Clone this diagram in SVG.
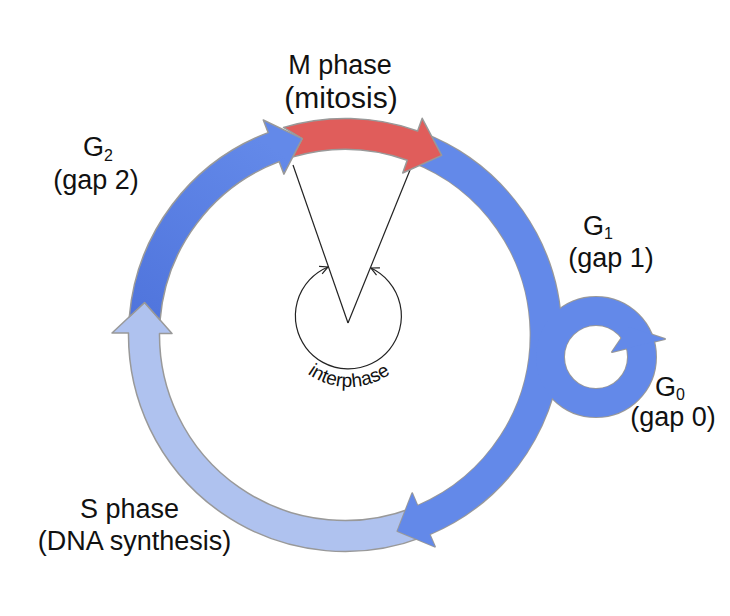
<svg xmlns="http://www.w3.org/2000/svg" width="730" height="616" viewBox="0 0 730 616">
<style>
.lbl{font-family:"Liberation Sans",Arial,sans-serif;font-size:27px;fill:#111}
.sub{font-size:16px}
.edge{stroke:#999;stroke-width:1.5;stroke-linejoin:round}
.blue{fill:#6389E9}
.thin{fill:none;stroke:#222;stroke-width:1.2}
</style>
<defs>
<linearGradient id="g2grad" x1="0" y1="1" x2="0.6" y2="0">
<stop offset="0" stop-color="#4F74DC"/>
<stop offset="1" stop-color="#6389E9"/>
</linearGradient>
<marker id="oa" viewBox="0 0 10 10" refX="9" refY="5" markerWidth="10" markerHeight="10" markerUnits="userSpaceOnUse" orient="auto-start-reverse">
<path d="M1,1 L9,5 L1,9" fill="none" stroke="#222" stroke-width="1.2"/>
</marker>
</defs>
<rect width="730" height="616" fill="#fff"/>
<g id="connectors">
<line class="thin" x1="293" y1="165" x2="348" y2="323"/>
<line class="thin" x1="410" y1="170" x2="348" y2="323"/>
<path class="thin" d="M328,267 A53,53 0 1 0 371,268" marker-start="url(#oa)" marker-end="url(#oa)"/>
</g>
<g id="s-phase">
<path class="edge" fill="#AFC2EF" d="M422.6,537.1 A216.5,216.5 0 0 1 128.5,333.1 L112,333 L144.6,302.5 L172,333.5 L159.5,333.4 A185.5,185.5 0 0 0 411.5,508.2 Z"/>
</g>
<g id="g1-g0">
<g stroke="#999" stroke-width="2" stroke-linejoin="round" class="blue">
<path d="M422.6,132.9 A216.5,216.5 0 0 1 429.6,534.3 L434.9,546.7 L397.5,531.1 L412.2,493.3 L417.5,505.8 A185.5,185.5 0 0 0 411.5,161.8 Z"/>
<path fill-rule="evenodd" d="M536,357 A60,60 0 1 0 656,357 A60,60 0 1 0 536,357 Z M564,357 A32,32 0 1 0 628,357 A32,32 0 1 0 564,357 Z"/>
<polygon points="612,352 629,327 665,339"/>
</g>
<g class="blue">
<path d="M422.6,132.9 A216.5,216.5 0 0 1 429.6,534.3 L434.9,546.7 L397.5,531.1 L412.2,493.3 L417.5,505.8 A185.5,185.5 0 0 0 411.5,161.8 Z"/>
<path fill-rule="evenodd" d="M536,357 A60,60 0 1 0 656,357 A60,60 0 1 0 536,357 Z M564,357 A32,32 0 1 0 628,357 A32,32 0 1 0 564,357 Z"/>
<polygon points="612,352 629,327 665,339"/>
</g>
</g>
<g id="m-phase">
<path class="edge" fill="#E05D5B" d="M283.5,127.4 A216.5,216.5 0 0 1 417.6,131 L422.2,118.3 L441.7,155.4 L402.7,173 L407.2,160.2 A185.5,185.5 0 0 0 292.3,157.1 L302.2,138.6 Z"/>
</g>
<g id="g2">
<path class="edge" fill="url(#g2grad)" d="M129.3,316.8 A216.5,216.5 0 0 1 268.1,132.6 L263.3,120 L302.2,138.6 L283.9,174.2 L279.1,161.6 A185.5,185.5 0 0 0 160.1,320 L144.6,302.5 Z"/>
</g>
<g id="labels">
<text class="lbl" x="340" y="74" text-anchor="middle">M phase</text>
<text class="lbl" x="341" y="108" text-anchor="middle" style="font-size:30px">(mitosis)</text>
<text class="lbl" x="83" y="156">G<tspan class="sub" dy="5">2</tspan></text>
<text class="lbl" x="96" y="189" text-anchor="middle">(gap 2)</text>
<text class="lbl" x="583" y="235">G<tspan class="sub" dy="4">1</tspan></text>
<text class="lbl" x="611" y="267" text-anchor="middle">(gap 1)</text>
<text class="lbl" x="655" y="396">G<tspan class="sub" dy="4">0</tspan></text>
<text class="lbl" x="673" y="426" text-anchor="middle">(gap 0)</text>
<text class="lbl" x="80" y="518">S phase</text>
<text class="lbl" x="134.5" y="550" text-anchor="middle">(DNA synthesis)</text>
<path id="ip" d="M287.5,351.5 A71,71 0 0 0 410.5,351.5" fill="none"/>
<text class="lbl" style="font-size:19px"><textPath href="#ip" startOffset="50%" text-anchor="middle">interphase</textPath></text>
</g>
</svg>
